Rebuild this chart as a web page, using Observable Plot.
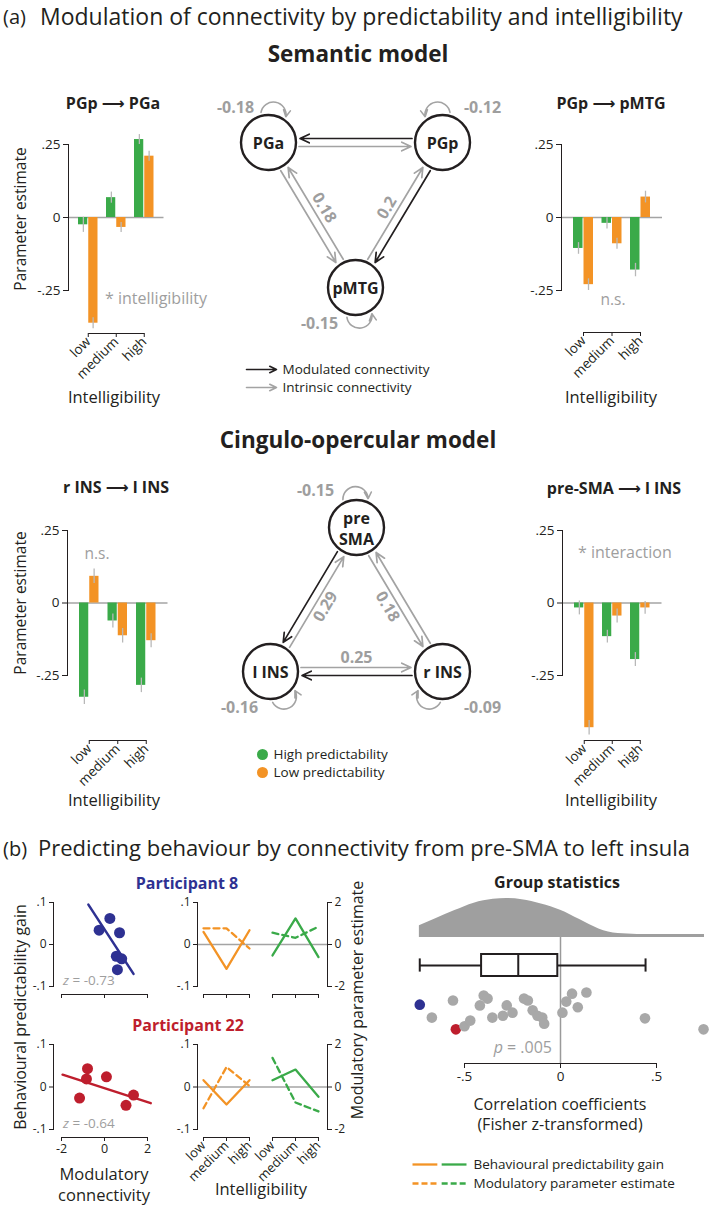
<!DOCTYPE html>
<html>
<head>
<meta charset="utf-8">
<script src="https://cdn.jsdelivr.net/npm/d3@7"></script>
<script src="https://cdn.jsdelivr.net/npm/@observablehq/plot@0.6"></script>
<style>
  html, body { margin: 0; padding: 0; background: #fff; }
  #fig { position: relative; width: 709px; height: 1206px; overflow: hidden; background: #fff;
         font-family: "Open Sans", "DejaVu Sans", sans-serif; color: #231f20; }
  .t { position: absolute; white-space: nowrap; line-height: 1.15; }
</style>
</head>
<body>
<div id="fig"></div>
<script>
// ===================== DATA =====================
const intelLevels = ["low", "medium", "high"];
const predGroups = ["Low predictability", "High predictability"];
const barYTicks = [-0.25, 0, 0.25];
const barYTickLabels = ["-.25", "0", ".25"];

// (a) Semantic model: PGp -> PGa
const pgpToPga_high = [-0.025, 0.068, 0.267];
const pgpToPga_low = [-0.362, -0.034, 0.21];
const pgpToPga_highErr = [0.026, 0.019, 0.017];
const pgpToPga_lowErr = [0.019, 0.017, 0.017];
// PGp -> pMTG
const pgpToPmtg_high = [-0.106, -0.02, -0.18];
const pgpToPmtg_low = [-0.23, -0.09, 0.07];
const pgpToPmtg_highErr = [0.02, 0.019, 0.023];
const pgpToPmtg_lowErr = [0.02, 0.019, 0.02];
// Cingulo-opercular: r INS -> l INS
const rinsToLins_high = [-0.325, -0.062, -0.284];
const rinsToLins_low = [0.092, -0.113, -0.13];
const rinsToLins_highErr = [0.025, 0.024, 0.025];
const rinsToLins_lowErr = [0.025, 0.025, 0.024];
// pre-SMA -> l INS
const presmaToLins_high = [-0.017, -0.116, -0.195];
const presmaToLins_low = [-0.43, -0.045, -0.017];
const presmaToLins_highErr = [0.024, 0.022, 0.024];
const presmaToLins_lowErr = [0.025, 0.024, 0.022];

// Network models
const semanticNodes = ["PGa", "PGp", "pMTG"];
const semanticEdges = [
  {from: "PGp", to: "PGa", type: "modulated"},
  {from: "PGa", to: "PGp", type: "intrinsic"},
  {from: "PGa", to: "pMTG", type: "intrinsic"},
  {from: "pMTG", to: "PGa", type: "intrinsic", value: 0.18},
  {from: "pMTG", to: "PGp", type: "intrinsic", value: 0.2},
  {from: "PGp", to: "pMTG", type: "modulated"}
];
const semanticSelf = [-0.18, -0.12, -0.15];

const cinguloNodes = ["pre SMA", "l INS", "r INS"];
const cinguloEdges = [
  {from: "pre SMA", to: "l INS", type: "modulated"},
  {from: "l INS", to: "pre SMA", type: "intrinsic", value: 0.29},
  {from: "pre SMA", to: "r INS", type: "intrinsic", value: 0.18},
  {from: "r INS", to: "pre SMA", type: "intrinsic"},
  {from: "l INS", to: "r INS", type: "intrinsic", value: 0.25},
  {from: "r INS", to: "l INS", type: "modulated"}
];
const cinguloSelf = [-0.15, -0.16, -0.09];

const connLegend = ["Modulated connectivity", "Intrinsic connectivity"];
const predLegend = ["High predictability", "Low predictability"];
const lineLegend = ["Behavioural predictability gain", "Modulatory parameter estimate"];

// (b) single participants
const scatterXTicks = [-2, 0, 2];
const scatterYTicks = [-0.1, 0, 0.1];
const scatterYTickLabels = ["-.1", "0", ".1"];
const modTicks = [-2, 0, 2];
const modTickLabels = ["-2", "0", "2"];

const p8Conn = [0.25, -0.25, 0.7, 0.55, 0.8, 0.6];
const p8Gain = [0.062, 0.034, 0.028, -0.028, -0.034, -0.06];
const p8FitX = [-0.75, 1.35];
const p8FitY = [0.095, -0.07];
const p22Conn = [-0.79, -0.84, 0.09, -1.16, 1.35, 1.0];
const p22Gain = [0.043, 0.019, 0.024, -0.026, -0.019, -0.043];
const p22FitX = [-1.95, 2.15];
const p22FitY = [0.029, -0.038];

// behavioural gain (left axis) and modulatory estimate (right axis) per intelligibility
const p8BehLow = [0.03, -0.058, 0.034];
const p8BehHigh = [-0.026, 0.062, -0.03];
const p8ModLow = [0.77, 0.77, -0.19];
const p8ModHigh = [0.56, 0.32, 0.85];
const p22BehLow = [0.016, -0.041, 0.016];
const p22BehHigh = [0.016, 0.041, -0.023];
const p22ModLow = [-1.0, 0.94, 0.05];
const p22ModHigh = [1.37, -0.73, -1.15];

// group statistics (Fisher z-transformed correlation coefficients)
const corrTicks = [-0.5, 0, 0.5];
const corrTickLabels = ["-.5", "0", ".5"];
const groupZ = [-0.733, -0.67, -0.56, -0.545, -0.50, -0.47, -0.42, -0.40, -0.38, -0.355, -0.30, -0.28, -0.25,
                -0.19, -0.17, -0.145, -0.12, -0.095, -0.085, 0.01, 0.03, 0.06, 0.09, 0.135, 0.44, 0.745];
const groupJitter = [0.32, 0.66, 0.21, 0.97, 0.89, 0.74, 0.34, 0.08, 0.16, 0.66, 0.61, 0.34, 0.53,
                     0.16, 0.21, 0.47, 0.61, 0.66, 0.82, 0.53, 0.24, 0.03, 0.39, 0.0, 0.68, 0.97];
const groupParticipant = [8, null, null, 22, null, null, null, null, null, null, null, null, null,
                          null, null, null, null, null, null, null, null, null, null, null, null, null];
const densityX = [-0.735, -0.65, -0.55, -0.45, -0.35, -0.28, -0.2, -0.1, 0, 0.1, 0.2, 0.3, 0.4, 0.5, 0.6, 0.75];
const densityY = [0.30, 0.48, 0.69, 0.88, 0.98, 1.0, 0.97, 0.86, 0.70, 0.46, 0.22, 0.10, 0.08, 0.08, 0.08, 0.08];
const groupBox = [-0.733, -0.411, -0.22, -0.014, 0.443]; // min, q1, median, q3, max

// ===================== STYLE =====================
const INK = "#231f20";
const GREEN = "#3aaa49";
const ORANGE = "#f39325";
const GRAYTXT = "#9e9e9e";
const ERRC = "#b8b8b8";
const ZEROC = "#a4a4a4";
const EDGEGRAY = "#a3a3a3";
const DOTGRAY = "#a8a8a8";
const DENSC = "#9f9f9f";
const P8C = "#2e3192";
const P22C = "#be1e2d";
const FONT = '"Open Sans", "DejaVu Sans", sans-serif';

const fig = document.getElementById("fig");

function text(html, x, y, o = {}) {
  const d = document.createElement("div");
  d.className = "t";
  d.innerHTML = html;
  d.style.left = x + "px";
  d.style.top = y + "px";
  d.style.fontSize = (o.size ?? 15) + "px";
  d.style.fontWeight = o.weight ?? 400;
  d.style.color = o.color ?? INK;
  const tx = o.anchor === "start" ? "0%" : o.anchor === "end" ? "-100%" : "-50%";
  d.style.transform = `translate(${tx}, -50%)` + (o.rotate ? ` rotate(${o.rotate}deg)` : "");
  fig.appendChild(d);
  return d;
}

function place(svg, left, top) {
  svg.style.position = "absolute";
  svg.style.left = left + "px";
  svg.style.top = top + "px";
  svg.style.background = "transparent";
  svg.style.overflow = "visible";
  svg.style.maxWidth = "none";
  fig.appendChild(svg);
  return svg;
}

const baseStyle = (size) => ({fontFamily: FONT, fontSize: size + "px", color: INK, background: "transparent", overflow: "visible"});

function yAxisOverlay(o) {
  const pad = 14, w = 60;
  const isLeft = (o.anchor ?? "left") === "left";
  const svgLeft = isLeft ? o.axisX - (w - 1) : o.axisX - 2;
  const svg = Plot.plot({
    width: w, height: (o.yBotPx - o.yTopPx) + 2 * pad,
    marginTop: pad, marginBottom: pad,
    marginLeft: isLeft ? w - 1 : 1, marginRight: isLeft ? 0 : w - 2,
    style: baseStyle(o.fontSize ?? 13),
    y: {domain: o.domain, ticks: o.ticks, tickFormat: d => o.labels[o.ticks.indexOf(d)],
        tickSize: o.tickSize ?? 5, tickPadding: 3, line: true, label: null, axis: isLeft ? "left" : "right"},
    marks: [Plot.ruleY([], {y: d => d})]
  });
  place(svg, svgLeft, o.yTopPx - pad);
}

// ===================== BAR PANELS =====================
function barPanel(c) {
  const svgLeft = c.svgLeft, svgTop = c.yTopPx - 30;
  const rows = intelLevels.map((k, i) => ({intel: k, hi: c.high[i], lo: c.low[i], hiErr: c.highErr[i], loErr: c.lowErr[i]}));
  const pi = (c.step - c.bw) / c.step, po = (c.firstPx - c.axisX) / c.step;
  const rangeEnd = c.axisX + c.step * (intelLevels.length - pi + 2 * po);
  const svgW = rangeEnd - svgLeft + 12, svgH = (c.xAxisPx - svgTop) + 60;
  const ys = d3.scaleLinear([-0.25, 0.25], [c.yBotPx - svgTop, c.yTopPx - svgTop]);
  const yBar = ys.invert(c.xAxisPx - svgTop);
  const half = c.bw / 2;
  const svg = Plot.plot({
    width: svgW, height: svgH,
    marginLeft: c.axisX - svgLeft, marginRight: svgLeft + svgW - rangeEnd,
    marginTop: 0, marginBottom: svgTop + svgH - c.xAxisPx,
    style: baseStyle(13.5),
    x: {type: "band", domain: intelLevels, paddingInner: pi, paddingOuter: po, round: false,
        tickRotate: -45, tickSize: 4, tickPadding: 2, label: null},
    y: {domain: [-0.25, 0.25], range: ys.range(), axis: null},
    marks: [
      Plot.ruleY([0], {stroke: ZEROC, strokeWidth: 1.4}),
      Plot.barY(rows, {x: "intel", y: "hi", fill: GREEN, insetLeft: 0, insetRight: half + 0.5}),
      Plot.barY(rows, {x: "intel", y: "lo", fill: ORANGE, insetLeft: half + 0.5, insetRight: 0}),
      Plot.ruleX(rows, {x: "intel", y1: d => d.hi - d.hiErr, y2: d => d.hi + d.hiErr, dx: -c.bw / 4, stroke: ERRC, strokeWidth: 1.3}),
      Plot.ruleX(rows, {x: "intel", y1: d => d.lo - d.loErr, y2: d => d.lo + d.loErr, dx: c.bw / 4, stroke: ERRC, strokeWidth: 1.3}),
      Plot.link([intelLevels], {x1: d => d[0], x2: d => d[d.length - 1], y1: yBar, y2: yBar, stroke: INK, strokeWidth: 1.2})
    ]
  });
  place(svg, svgLeft, svgTop);
  yAxisOverlay({axisX: c.axisX, yTopPx: c.yTopPx, yBotPx: c.yBotPx, domain: [-0.25, 0.25],
                ticks: barYTicks, labels: barYTickLabels, fontSize: 13.5, tickSize: 5});
}

// ===================== NETWORKS =====================
const NODE_R = 27.5, PAIR_GAP = 4, LABEL_OFF = 14, LOOP_R = 31, LOOP_HALF = 24;

function network(c) {
  const svgLeft = 180, svgTop = c.topY - 60, svgW = 360, svgH = (c.botY - svgTop) + 70;
  const xs = d3.scaleLinear([-1, 1], [c.leftX - svgLeft, c.rightX - svgLeft]);
  const ys = d3.scaleLinear([0, 1], [c.botY - svgTop, c.topY - svgTop]);
  const pos = c.layout;
  const P = n => [xs(pos[n][0]), ys(pos[n][1])];
  const centroid = [d3.mean(c.nodes, n => P(n)[0]), d3.mean(c.nodes, n => P(n)[1])];
  const marks = [];
  c.edges.forEach((e, i) => {
    const [ax, ay] = P(e.from), [bx, by] = P(e.to);
    const L = Math.hypot(bx - ax, by - ay), ux = (bx - ax) / L, uy = (by - ay) / L;
    const s = c.sides[i] * PAIR_GAP;
    marks.push(Plot.arrow([e], {
      x1: d => pos[d.from][0], y1: d => pos[d.from][1], x2: d => pos[d.to][0], y2: d => pos[d.to][1],
      dx: -uy * s, dy: ux * s,
      stroke: e.type === "modulated" ? INK : EDGEGRAY, strokeWidth: 1.7, headLength: 9, headAngle: 50,
      insetStart: NODE_R + 3, insetEnd: NODE_R + 4
    }));
    if (e.value != null) {
      const mx = (ax + bx) / 2, my = (ay + by) / 2;
      let nx = -uy, ny = ux;
      if (nx * (centroid[0] - mx) + ny * (centroid[1] - my) < 0) { nx = -nx; ny = -ny; }
      let ang = Math.atan2(uy, ux) * 180 / Math.PI;
      if (ang > 90) ang -= 180;
      if (ang < -90) ang += 180;
      marks.push(Plot.text([e], {
        x: d => (pos[d.from][0] + pos[d.to][0]) / 2, y: d => (pos[d.from][1] + pos[d.to][1]) / 2,
        text: d => String(d.value), rotate: ang, dx: nx * LABEL_OFF, dy: ny * LABEL_OFF,
        fill: GRAYTXT, fontWeight: "bold", fontSize: 16
      }));
    }
  });
  c.nodes.forEach((n, i) => {
    const spec = c.loops[i];
    const [cx, cy] = P(n);
    const a1 = (spec.theta - LOOP_HALF) * Math.PI / 180, a2 = (spec.theta + LOOP_HALF) * Math.PI / 180;
    let p1 = [cx + LOOP_R * Math.cos(a1), cy + LOOP_R * Math.sin(a1)];
    let p2 = [cx + LOOP_R * Math.cos(a2), cy + LOOP_R * Math.sin(a2)];
    let bend = 90;
    if (spec.headAtLow) { [p1, p2] = [p2, p1]; bend = -90; }
    marks.push(Plot.arrow([c.self[i]], {
      x1: xs.invert(p1[0]), y1: ys.invert(p1[1]), x2: xs.invert(p2[0]), y2: ys.invert(p2[1]),
      bend, stroke: EDGEGRAY, strokeWidth: 1.6, headLength: 7, headAngle: 55
    }));
    marks.push(Plot.text([c.self[i]], {
      x: pos[n][0], y: pos[n][1], dx: spec.ldx, dy: spec.ldy, text: d => String(d),
      fill: GRAYTXT, fontWeight: "bold", fontSize: 16
    }));
  });
  marks.push(Plot.dot(c.nodes, {x: n => pos[n][0], y: n => pos[n][1], r: NODE_R, fill: "white", stroke: INK, strokeWidth: 2.4}));
  marks.push(Plot.text(c.nodes, {x: n => pos[n][0], y: n => pos[n][1], text: n => (c.display[n] ?? n),
    fontWeight: "bold", fontSize: 16, fill: INK, lineHeight: 1.35}));
  const svg = Plot.plot({
    width: svgW, height: svgH, style: baseStyle(16),
    x: {domain: [-1, 1], range: xs.range(), axis: null},
    y: {domain: [0, 1], range: ys.range(), axis: null},
    marks
  });
  place(svg, svgLeft, svgTop);
}

// ===================== SCATTER & LINE PANELS =====================
function scatterPanel(c) {
  const svgTop = c.yTopPx - 15, svgW = 170, svgH = (c.xAxisPx - svgTop) + 30;
  const ys = d3.scaleLinear([-0.1, 0.1], [c.yBotPx - svgTop, c.yTopPx - svgTop]);
  const rows = c.conn.map((v, i) => ({c: v, g: c.gain[i]}));
  const fit = c.fitX.map((v, i) => ({x: v, y: c.fitY[i]}));
  const svg = Plot.plot({
    width: svgW, height: svgH, marginLeft: 61, marginRight: svgW - 147, marginTop: 0,
    marginBottom: svgTop + svgH - c.xAxisPx,
    style: baseStyle(12.5),
    x: {domain: [-2, 2], ticks: scatterXTicks, tickFormat: c.showLabels ? d => String(d) : () => "",
        tickSize: 4, tickPadding: 3, line: true, label: null},
    y: {domain: [-0.1, 0.1], range: ys.range(), axis: null},
    marks: [
      Plot.line(fit, {x: "x", y: "y", stroke: c.color, strokeWidth: 2.5}),
      Plot.dot(rows, {x: "c", y: "g", r: 5.5, fill: c.color})
    ]
  });
  place(svg, 0, svgTop);
  yAxisOverlay({axisX: 53, yTopPx: c.yTopPx, yBotPx: c.yBotPx, domain: [-0.1, 0.1],
                ticks: scatterYTicks, labels: scatterYTickLabels, fontSize: 12, tickSize: 4});
}

function linePanel(c) {
  const svgLeft = 160, svgTop = c.yTopPx - 15, svgW = 200, svgH = (c.xAxisPx - svgTop) + 55;
  const keys = predGroups.flatMap(g => intelLevels.map(l => g + "|" + l));
  const ys = d3.scaleLinear([-0.1, 0.1], [c.yBotPx - svgTop, c.yTopPx - svgTop]);
  const yBar = ys.invert(c.xAxisPx - svgTop);
  const modScale = d3.max(scatterYTicks) / d3.max(modTicks);
  const series = (g, vals, isMod) => vals.map((v, i) => ({key: g + "|" + intelLevels[i], v: isMod ? v * modScale : v}));
  const svg = Plot.plot({
    width: svgW, height: svgH,
    marginLeft: 197 - svgLeft, marginRight: svgLeft + svgW - 327, marginTop: 0,
    marginBottom: svgTop + svgH - c.xAxisPx,
    style: baseStyle(13),
    x: {type: "point", domain: keys, range: [203.3 - svgLeft, 318.3 - svgLeft], padding: 0,
        tickRotate: c.showLabels ? -45 : 0, tickFormat: c.showLabels ? k => k.split("|")[1] : () => "",
        tickSize: 4, tickPadding: 2, label: null},
    y: {domain: [-0.1, 0.1], range: ys.range(), axis: null},
    marks: [
      Plot.ruleY([0], {stroke: ZEROC, strokeWidth: 1.3}),
      Plot.link(predGroups, {x1: g => g + "|" + intelLevels[0], x2: g => g + "|" + intelLevels[intelLevels.length - 1],
                             y1: yBar, y2: yBar, stroke: INK, strokeWidth: 1.2}),
      Plot.line(series(predGroups[0], c.modLow, true), {x: "key", y: "v", stroke: ORANGE, strokeWidth: 2.3, strokeDasharray: "6,4"}),
      Plot.line(series(predGroups[1], c.modHigh, true), {x: "key", y: "v", stroke: GREEN, strokeWidth: 2.3, strokeDasharray: "6,4"}),
      Plot.line(series(predGroups[0], c.behLow, false), {x: "key", y: "v", stroke: ORANGE, strokeWidth: 2.3}),
      Plot.line(series(predGroups[1], c.behHigh, false), {x: "key", y: "v", stroke: GREEN, strokeWidth: 2.3})
    ]
  });
  place(svg, svgLeft, svgTop);
  yAxisOverlay({axisX: 197, yTopPx: c.yTopPx, yBotPx: c.yBotPx, domain: [-0.1, 0.1],
                ticks: scatterYTicks, labels: scatterYTickLabels, fontSize: 12, tickSize: 4});
  yAxisOverlay({axisX: 327, yTopPx: c.yTopPx, yBotPx: c.yBotPx, domain: [-2, 2],
                ticks: modTicks, labels: modTickLabels, fontSize: 12, tickSize: 4, anchor: "right"});
}

// ===================== GROUP STATISTICS =====================
function groupPanel() {
  const X = {domain: [-0.5, 0.5], range: [464, 656]};
  // axis + zero line
  const axisTop = 930;
  place(Plot.plot({
    width: 709, height: 160, marginLeft: 464, marginRight: 709 - 656, marginTop: 937 - axisTop,
    marginBottom: 160 - (1063 - axisTop), style: baseStyle(13.5),
    x: {...X, ticks: corrTicks, tickFormat: d => corrTickLabels[corrTicks.indexOf(d)], tickSize: 5, tickPadding: 3, line: true, label: null},
    marks: [Plot.ruleX([0], {stroke: "#9a9a9a", strokeWidth: 1.5})]
  }), 0, axisTop);
  // density
  const densTop = 890;
  const dens = densityX.map((x, i) => ({x, y: densityY[i]}));
  place(Plot.plot({
    width: 709, height: 52, style: baseStyle(12),
    x: {...X, axis: null}, y: {domain: [0, 1], range: [937 - densTop, 898 - densTop], axis: null},
    marks: [Plot.areaY(dens, {x: "x", y: "y", fill: DENSC, curve: "monotone-x"})]
  }), 0, densTop);
  // box plot (y: 0 = bottom of box, 1 = top of box)
  const boxTop = 945;
  const [mn, q1, md, q3, mx] = groupBox;
  place(Plot.plot({
    width: 709, height: 40, style: baseStyle(12),
    x: {...X, axis: null}, y: {domain: [0, 1], range: [976 - boxTop, 954 - boxTop], axis: null},
    marks: [
      Plot.ruleY([0.5], {y: d => d, x1: mn, x2: q1, stroke: INK, strokeWidth: 2}),
      Plot.ruleY([0.5], {y: d => d, x1: q3, x2: mx, stroke: INK, strokeWidth: 2}),
      Plot.rect([groupBox], {x1: () => q1, x2: () => q3, y1: 0, y2: 1, fill: "white", stroke: INK, strokeWidth: 2}),
      Plot.ruleX([md], {x: d => d, y1: 0, y2: 1, stroke: INK, strokeWidth: 2}),
      Plot.ruleX([mn, mx], {x: d => d, y1: 0.2, y2: 0.8, stroke: INK, strokeWidth: 2})
    ]
  }), 0, boxTop);
  // dots
  const dotTop = 985;
  const rows = groupZ.map((z, i) => ({z, j: groupJitter[i], who: groupParticipant[i]}));
  place(Plot.plot({
    width: 709, height: 52, style: baseStyle(12),
    x: {...X, axis: null}, y: {domain: [0, 1], range: [992 - dotTop, 1030 - dotTop], axis: null},
    color: {type: "identity"},
    marks: [Plot.dot(rows, {x: "z", y: "j", r: 5.3, fill: d => d.who === 8 ? P8C : d.who === 22 ? P22C : DOTGRAY})]
  }), 0, dotTop);
}

// ===================== LEGENDS =====================
function connLegendPlot() {
  const top = 356;
  place(Plot.plot({
    width: 220, height: 44, margin: 0, style: baseStyle(13.5),
    x: {domain: [0, 1], range: [6, 36], axis: null},
    y: {type: "point", domain: connLegend, range: [369 - top, 387 - top], padding: 0, axis: null},
    color: {type: "identity"},
    marks: [
      Plot.arrow(connLegend, {x1: 0, x2: 1, y1: d => d, y2: d => d, stroke: (d, i) => i === 0 ? INK : EDGEGRAY,
                              strokeWidth: 1.6, headLength: 7, headAngle: 50}),
      Plot.text(connLegend, {x: 1, y: d => d, text: d => d, dx: 6, textAnchor: "start", fill: INK})
    ]
  }), 240, top);
}
function predLegendPlot() {
  const top = 740;
  place(Plot.plot({
    width: 200, height: 44, margin: 0, style: baseStyle(13.5),
    x: {domain: [0, 1], range: [22, 40], axis: null},
    y: {type: "point", domain: predLegend, range: [754 - top, 772 - top], padding: 0, axis: null},
    color: {type: "identity"},
    marks: [
      Plot.dot(predLegend, {x: 0, y: d => d, r: 5.5, fill: (d, i) => i === 0 ? GREEN : ORANGE}),
      Plot.text(predLegend, {x: 0, y: d => d, text: d => d, dx: 11, textAnchor: "start", fill: INK})
    ]
  }), 240, top);
}
function lineLegendPlot() {
  const top = 1150;
  const segs = lineLegend.flatMap((lab, r) => [{lab, r, col: ORANGE, a: 0, b: 0.46}, {lab, r, col: GREEN, a: 0.54, b: 1}]);
  place(Plot.plot({
    width: 300, height: 48, margin: 0, style: baseStyle(13.5),
    x: {domain: [0, 1], range: [12, 66], axis: null},
    y: {type: "point", domain: lineLegend, range: [1164 - top, 1183 - top], padding: 0, axis: null},
    color: {type: "identity"},
    marks: [
      Plot.link(segs.filter(d => d.r === 0), {x1: "a", x2: "b", y1: "lab", y2: "lab", stroke: "col", strokeWidth: 2.3}),
      Plot.link(segs.filter(d => d.r === 1), {x1: "a", x2: "b", y1: "lab", y2: "lab", stroke: "col", strokeWidth: 2.3, strokeDasharray: "6,3"}),
      Plot.text(lineLegend, {x: 1, y: d => d, text: d => d, dx: 7, textAnchor: "start", fill: INK})
    ]
  }), 400, top);
}

// ===================== RENDER =====================
// (a) titles
text("(a)", 3, 16, {anchor: "start", size: 20});
text("Modulation of connectivity by predictability and intelligibility", 40, 16, {anchor: "start", size: 23});
text("Semantic model", 358, 54, {size: 22.5, weight: 700});

barPanel({high: pgpToPga_high, low: pgpToPga_low, highErr: pgpToPga_highErr, lowErr: pgpToPga_lowErr,
          svgLeft: 0, axisX: 68, firstPx: 78, step: 28, bw: 19.5, yTopPx: 144, yBotPx: 290, xAxisPx: 333});
barPanel({high: pgpToPmtg_high, low: pgpToPmtg_low, highErr: pgpToPmtg_highErr, lowErr: pgpToPmtg_lowErr,
          svgLeft: 490, axisX: 561, firstPx: 573, step: 28.5, bw: 20, yTopPx: 144, yBotPx: 290, xAxisPx: 332});
text("PGp ⟶ PGa", 113, 103, {size: 16, weight: 700});
text("PGp ⟶ pMTG", 611, 103, {size: 16, weight: 700});
text("Parameter estimate", 21, 219, {size: 15.5, rotate: -90});
text("* intelligibility", 105, 298, {anchor: "start", size: 16, color: GRAYTXT});
text("n.s.", 613, 300, {size: 15.5, color: GRAYTXT});
text("Intelligibility", 114, 397, {size: 16.5});
text("Intelligibility", 611, 397, {size: 16.5});

network({nodes: semanticNodes, edges: semanticEdges, self: semanticSelf,
  layout: {PGa: [-1, 1], PGp: [1, 1], pMTG: [0, 0]},
  display: {},
  sides: [1, 1, 1, 1, -1, -1],
  loops: [{theta: -80, headAtLow: false, ldx: -33, ldy: -35},
          {theta: -100, headAtLow: true, ldx: 40, ldy: -35},
          {theta: 82, headAtLow: true, ldx: -36, ldy: 36}],
  leftX: 268, rightX: 442, topY: 142, botY: 287});
connLegendPlot();

text("Cingulo-opercular model", 358, 440, {size: 22.5, weight: 700});
barPanel({high: rinsToLins_high, low: rinsToLins_low, highErr: rinsToLins_highErr, lowErr: rinsToLins_lowErr,
          svgLeft: 0, axisX: 67, firstPx: 79, step: 28.5, bw: 19.5, yTopPx: 530, yBotPx: 675, xAxisPx: 740});
barPanel({high: presmaToLins_high, low: presmaToLins_low, highErr: presmaToLins_highErr, lowErr: presmaToLins_lowErr,
          svgLeft: 490, axisX: 562, firstPx: 574, step: 28, bw: 19.5, yTopPx: 530, yBotPx: 675, xAxisPx: 740});
text("r INS ⟶ l INS", 116, 487, {size: 16, weight: 700});
text("pre-SMA ⟶ l INS", 614, 488, {size: 16, weight: 700});
text("Parameter estimate", 21, 603, {size: 15.5, rotate: -90});
text("n.s.", 97, 554, {size: 15.5, color: GRAYTXT});
text("* interaction", 578, 552, {anchor: "start", size: 16, color: GRAYTXT});
text("Intelligibility", 114, 800, {size: 16.5});
text("Intelligibility", 611, 800, {size: 16.5});

network({nodes: cinguloNodes, edges: cinguloEdges, self: cinguloSelf,
  layout: {"pre SMA": [0, 1], "l INS": [-1, 0], "r INS": [1, 0]},
  display: {"pre SMA": "pre\nSMA"},
  sides: [1, 1, 1, 1, -1, -1],
  loops: [{theta: -92, headAtLow: false, ldx: -41, ldy: -37},
          {theta: 62, headAtLow: true, ldx: -31, ldy: 36},
          {theta: 118, headAtLow: false, ldx: 40, ldy: 36}],
  leftX: 270, rightX: 442, topY: 527, botY: 671});
predLegendPlot();

// (b)
text("(b)", 3, 848, {anchor: "start", size: 20});
text("Predicting behaviour by connectivity from pre-SMA to left insula", 38, 848, {anchor: "start", size: 22});
text("Participant 8", 187, 883, {size: 16, weight: 700, color: P8C});
text("Participant 22", 188, 1025, {size: 16, weight: 700, color: P22C});
text("Group statistics", 557, 882, {size: 16, weight: 700});

scatterPanel({conn: p8Conn, gain: p8Gain, fitX: p8FitX, fitY: p8FitY, color: P8C,
              yTopPx: 902, yBotPx: 986, xAxisPx: 994, showLabels: false});
scatterPanel({conn: p22Conn, gain: p22Gain, fitX: p22FitX, fitY: p22FitY, color: P22C,
              yTopPx: 1044, yBotPx: 1129, xAxisPx: 1137, showLabels: true});
linePanel({behLow: p8BehLow, behHigh: p8BehHigh, modLow: p8ModLow, modHigh: p8ModHigh,
           yTopPx: 902, yBotPx: 986, xAxisPx: 994, showLabels: false});
linePanel({behLow: p22BehLow, behHigh: p22BehHigh, modLow: p22ModLow, modHigh: p22ModHigh,
           yTopPx: 1044, yBotPx: 1129, xAxisPx: 1137, showLabels: true});
groupPanel();
lineLegendPlot();

text("<i>z</i> = -0.73", 63, 981, {anchor: "start", size: 13.5, color: GRAYTXT});
text("<i>z</i> = -0.64", 63, 1124, {anchor: "start", size: 13.5, color: GRAYTXT});
text("Behavioural predictability gain", 20, 1017, {size: 16, rotate: -90});
text("Modulatory parameter estimate", 357, 1000, {size: 16, rotate: -90});
text("Modulatory", 104, 1174, {size: 16.5});
text("connectivity", 104, 1195, {size: 16.5});
text("Intelligibility", 261, 1189, {size: 16.5});
text("Correlation coefficients", 560, 1104, {size: 16});
text("(Fisher z-transformed)", 560, 1124, {size: 16});
text("<i>p</i> = .005", 552, 1047, {anchor: "end", size: 16, color: GRAYTXT});
</script>
</body>
</html>
